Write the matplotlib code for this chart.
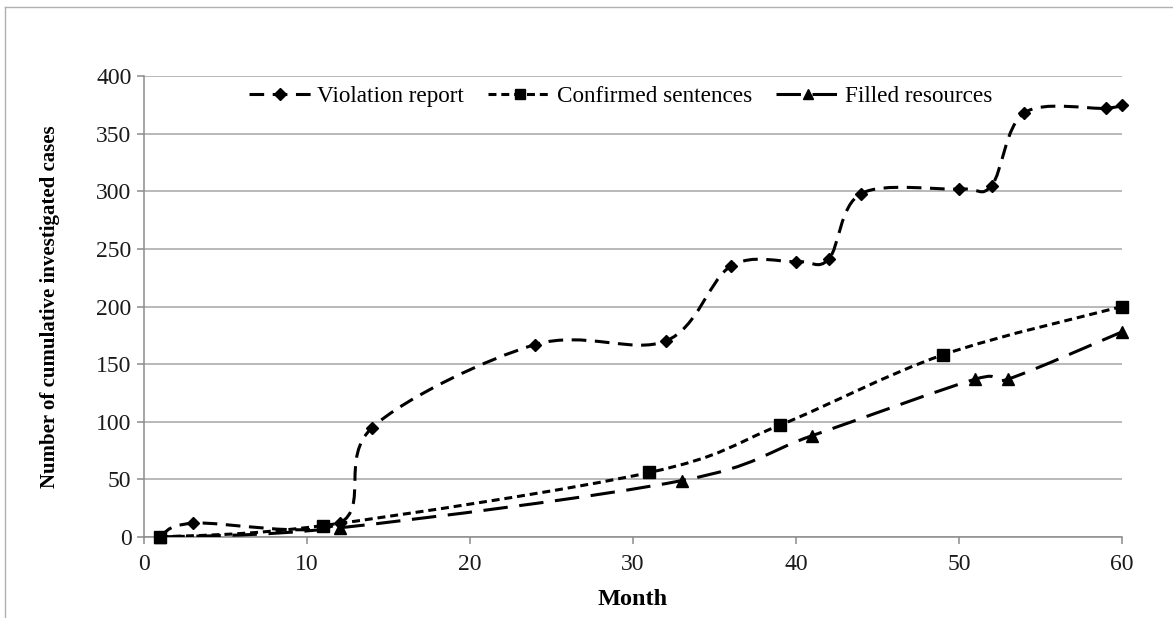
import numpy as np
import matplotlib
matplotlib.use("Agg")
import matplotlib.pyplot as plt
from matplotlib.path import Path
from matplotlib.patches import PathPatch
from matplotlib.lines import Line2D

plt.rcParams['font.family'] = ['Liberation Serif', 'DejaVu Serif']

# ============================================================
# DATA
# ============================================================

viol_month = [1, 3, 12, 14, 24, 32, 36, 40, 42, 44, 50, 52, 54, 59, 60]
viol_cases = [0, 12, 12, 95, 167, 170, 235, 239, 241, 298, 302, 305, 368, 372, 375]

conf_month = [1, 11, 31, 39, 49, 60]
conf_cases = [0, 10, 56, 97, 158, 200]

fill_month = [1, 12, 33, 41, 51, 53, 60]
fill_cases = [0, 8, 49, 88, 137, 137, 178]

labels = ["Violation report", "Confirmed sentences", "Filled resources"]

# ============================================================
# HELPERS
# ============================================================

def smooth_path(xs, ys):
    """Excel-like smoothed line: cubic bezier through the points."""
    p = np.column_stack([xs, ys]).astype(float)
    n = len(p)
    verts = [p[0]]
    codes = [Path.MOVETO]
    for i in range(n - 1):
        p0 = p[i - 1] if i > 0 else p[i]
        p3 = p[i + 2] if i + 2 < n else p[i + 1]
        c1 = p[i] + (p[i + 1] - p0) / 6.0
        c2 = p[i + 1] - (p3 - p[i]) / 6.0
        verts += [c1, c2, p[i + 1]]
        codes += [Path.CURVE4] * 3
    return Path(verts, codes)

LW = 2.2
STYLES = [
    dict(dash=(4.8, 2.8), marker="D", ms=6.5),
    dict(dash=(2.6, 1.6), marker="s", ms=8.5),
    dict(dash=(8.0, 3.8), marker="^", ms=8.0),
]
series = [(viol_month, viol_cases), (conf_month, conf_cases), (fill_month, fill_cases)]

# ============================================================
# FIGURE
# ============================================================

fig = plt.figure(figsize=(11.73, 6.18), dpi=100)
ax = fig.add_axes([0.1228, 0.131, 0.8337, 0.746])

handles = []
for (xs, ys), st, lab in zip(series, STYLES, labels):
    patch = PathPatch(smooth_path(xs, ys), fill=False, edgecolor="black",
                      linewidth=LW, linestyle=(0, st["dash"]), zorder=3,
                      capstyle="butt")
    ax.add_patch(patch)
    ax.plot(xs, ys, linestyle="None", marker=st["marker"], ms=st["ms"],
            color="black", zorder=4, clip_on=False)
    handles.append(Line2D([], [], color="black", linewidth=LW,
                          linestyle=(0, st["dash"]), marker=st["marker"],
                          ms=st["ms"] * 0.9, label=lab))

ax.set_xlim(0, 60)
ax.set_ylim(0, 400)
ax.set_xticks(np.arange(0, 61, 10))
ax.set_yticks(np.arange(0, 401, 50))
ax.yaxis.grid(True, color="#A6A6A6", linewidth=1.1)
ax.set_axisbelow(True)

for s in ["top", "right"]:
    ax.spines[s].set_visible(False)
for s in ["left", "bottom"]:
    ax.spines[s].set_color("#8C8C8C")
    ax.spines[s].set_linewidth(1.1)

ax.tick_params(axis="both", direction="out", length=5, width=1.1,
               color="#8C8C8C", labelsize=17, labelcolor="#1A1A1A")
ax.tick_params(axis="x", pad=7)
ax.tick_params(axis="y", pad=4)

ax.set_xlabel("Month", fontsize=17.5, fontweight="bold")
ax.set_ylabel("Number of cumulative investigated cases", fontsize=15,
              fontweight="bold")
ax.xaxis.set_label_coords(0.5, -0.112)
ax.yaxis.set_label_coords(-0.086, 0.5)

ax.legend(handles=handles, loc="center", bbox_to_anchor=(0.487, 0.956),
          ncol=3, frameon=False, fontsize=16.7, handlelength=2.7,
          handletextpad=0.25, columnspacing=1.05, numpoints=1,
          borderpad=0.2)

# chart area border (top and left edges visible)
fig.add_artist(Line2D([5 / 1173, 1.0], [1 - 7 / 618, 1 - 7 / 618],
                      color="#B0B0B0", linewidth=1.0,
                      transform=fig.transFigure))
fig.add_artist(Line2D([5 / 1173, 5 / 1173], [0.0, 1 - 7 / 618],
                      color="#B0B0B0", linewidth=1.0,
                      transform=fig.transFigure))

fig.savefig("out.png", dpi=100)
